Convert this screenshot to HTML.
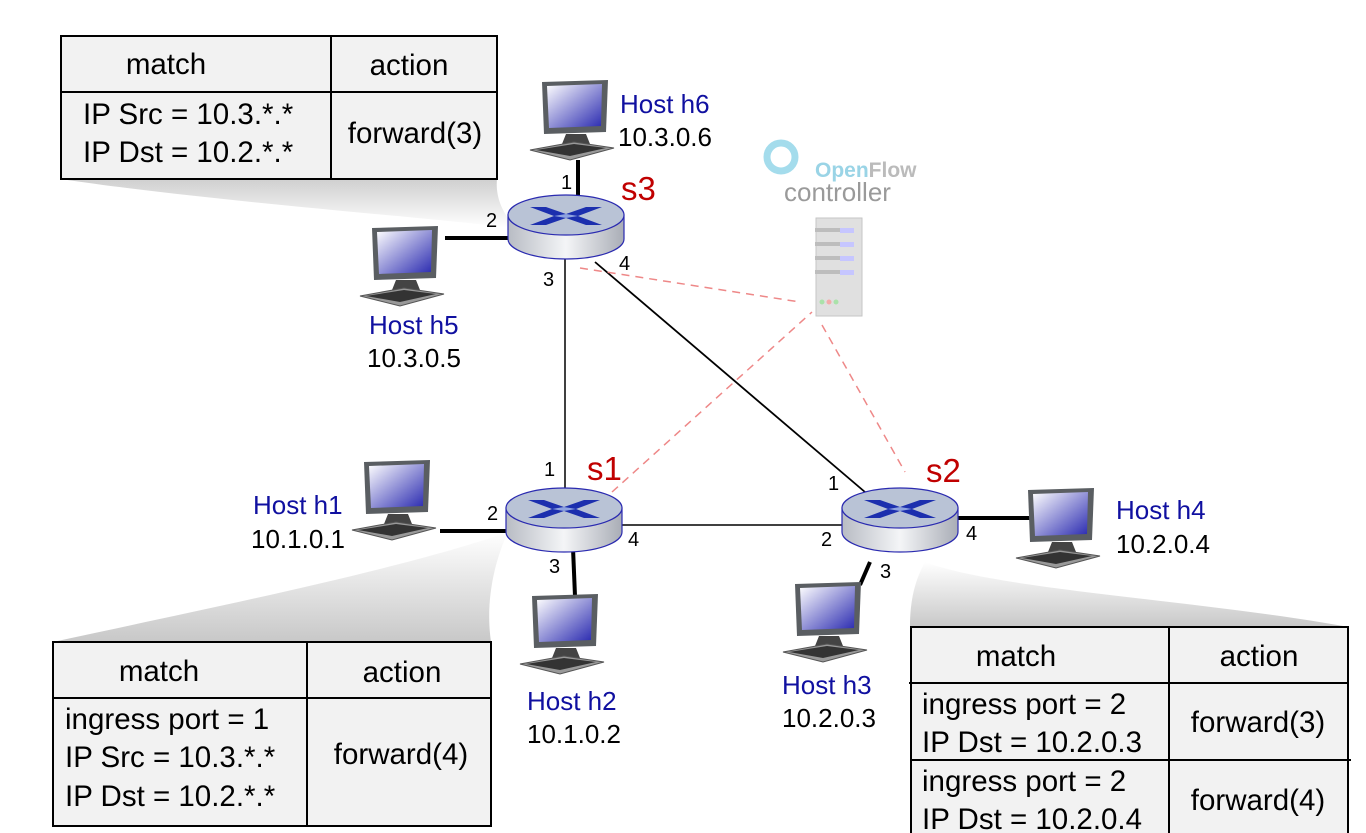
<!DOCTYPE html>
<html><head><meta charset="utf-8"><style>
html,body{margin:0;padding:0;background:#fff;}
svg{display:block;font-family:"Liberation Sans",Arial,sans-serif;}
</style></head><body>
<svg width="1366" height="833" viewBox="0 0 1366 833" xmlns="http://www.w3.org/2000/svg">
<defs>
<linearGradient id="sh1" x1="0" y1="0" x2="0" y2="1"><stop offset="0" stop-color="#cfcfcf"/><stop offset="1" stop-color="#fff"/></linearGradient>
<linearGradient id="sh2" x1="0" y1="1" x2="0" y2="0"><stop offset="0" stop-color="#c8c8c8"/><stop offset="1" stop-color="#fff"/></linearGradient>
<linearGradient id="rb" x1="0" y1="0" x2="1" y2="0"><stop offset="0" stop-color="#b8bcc4"/><stop offset="0.5" stop-color="#f4f5f7"/><stop offset="1" stop-color="#a9adb6"/></linearGradient>
<linearGradient id="scr" x1="0" y1="0" x2="1" y2="1"><stop offset="0" stop-color="#fff"/><stop offset="1" stop-color="#2a2ab0"/></linearGradient>
<g id="router">
<path d="M-58,0 L-58,24 A58,20 0 0 0 58,24 L58,0 Z" fill="url(#rb)" stroke="#2a2ab0" stroke-width="1.2"/>
<ellipse cx="0" cy="0" rx="58" ry="20" fill="#b9c3d6" stroke="#2a2ab0" stroke-width="1.2"/>
<path d="M-36,-8 L-20,-8 L0,-1 L20,-8 L36,-8 L12,1 L36,10 L20,10 L0,3 L-20,10 L-36,10 L-12,1 Z" fill="#1c2fae"/>
<path d="M-12,1 L0,-1 L12,1 L0,3 Z" fill="#8fa3e0"/>
</g>
<g id="pc">
<path d="M12,2 L78,0 L76,52 L14,54 Z" fill="#5a5e62"/>
<path d="M17,6 L72,4 L71,46 L19,48 Z" fill="url(#scr)"/>
<path d="M36,54 L56,54 L60,64 L32,64 Z" fill="#444"/>
<path d="M0,70 L44,62 L84,68 L40,80 Z" fill="#999" stroke="#555" stroke-width="1"/>
<path d="M6,70 L44,64 L76,68 L40,76 Z" fill="#333"/>
</g>
</defs>

<path d="M61,179 L497,179 C495,200 505,215 515,228 C400,215 200,200 61,179 Z" fill="url(#sh1)"/>
<path d="M53,642 L491,642 C485,600 495,560 508,532 C400,570 200,610 53,642 Z" fill="url(#sh2)"/>
<path d="M910,627 L1349,627 C1200,600 1000,590 925,562 C915,580 910,600 910,627 Z" fill="url(#sh2)"/>

<g stroke="#000" fill="none">
<line x1="565" y1="255" x2="565" y2="495" stroke-width="1.5"/>
<line x1="595" y1="262" x2="872" y2="498" stroke-width="1.8"/>
<line x1="615" y1="525" x2="845" y2="525" stroke-width="1.5"/>
<line x1="578" y1="160" x2="578" y2="200" stroke-width="4"/>
<line x1="445" y1="238" x2="510" y2="238" stroke-width="4"/>
<line x1="440" y1="531" x2="508" y2="531" stroke-width="4"/>
<line x1="573" y1="548" x2="575" y2="596" stroke-width="4"/>
<line x1="870" y1="562" x2="860" y2="585" stroke-width="4"/>
<line x1="955" y1="518" x2="1040" y2="518" stroke-width="4"/>
</g>
<g stroke="#e88" stroke-width="1.5" stroke-dasharray="8,6" fill="none">
<line x1="580" y1="268" x2="800" y2="302"/>
<line x1="612" y1="492" x2="812" y2="312"/>
<line x1="822" y1="325" x2="905" y2="472"/>
</g>

<use href="#router" x="566" y="215"/>
<use href="#router" x="564" y="508"/>
<use href="#router" x="900" y="508"/>

<use href="#pc" x="530" y="80"/>
<use href="#pc" x="360" y="226"/>
<use href="#pc" x="352" y="460"/>
<use href="#pc" x="520" y="594"/>
<use href="#pc" x="783" y="582"/>
<use href="#pc" x="1016" y="488"/>

<g opacity="0.55">
<rect x="816" y="218" width="46" height="98" fill="#c8c8c8" stroke="#999"/>
<rect x="815" y="228" width="38" height="4" fill="#888"/><rect x="840" y="228" width="14" height="5" fill="#99f"/>
<rect x="815" y="242" width="38" height="4" fill="#888"/><rect x="840" y="242" width="14" height="5" fill="#99f"/>
<rect x="815" y="256" width="38" height="4" fill="#888"/><rect x="840" y="256" width="14" height="5" fill="#99f"/>
<rect x="815" y="270" width="38" height="4" fill="#888"/><rect x="840" y="270" width="14" height="5" fill="#99f"/>
<circle cx="822" cy="302" r="2.5" fill="#6c6"/><circle cx="829" cy="302" r="2.5" fill="#e66"/><circle cx="836" cy="302" r="2.5" fill="#6c6"/>
<circle cx="781" cy="157" r="14" fill="none" stroke="#5bc0de" stroke-width="7"/>
</g>
<text x="815" y="177" font-size="21" font-weight="bold" fill="#9ad4e6">Open<tspan fill="#bbb">Flow</tspan></text>
<text x="784" y="201" font-size="26" fill="#9a9a9a">controller</text>

<g font-size="26">
<text x="620" y="113" fill="#1010a0">Host h6</text><text x="618" y="146">10.3.0.6</text>
<text x="369" y="334" fill="#1010a0">Host h5</text><text x="367" y="367">10.3.0.5</text>
<text x="253" y="514" fill="#1010a0">Host h1</text><text x="251" y="548">10.1.0.1</text>
<text x="527" y="710" fill="#1010a0">Host h2</text><text x="527" y="743">10.1.0.2</text>
<text x="782" y="694" fill="#1010a0">Host h3</text><text x="782" y="727">10.2.0.3</text>
<text x="1116" y="519" fill="#1010a0">Host h4</text><text x="1116" y="553">10.2.0.4</text>
</g>
<g font-size="33" fill="#c00000">
<text x="621" y="200">s3</text><text x="587" y="480">s1</text><text x="926" y="482">s2</text>
</g>
<g font-size="20">
<text x="561" y="189">1</text><text x="486" y="227">2</text><text x="543" y="286">3</text><text x="619" y="270">4</text>
<text x="544" y="476">1</text><text x="487" y="520">2</text><text x="549" y="573">3</text><text x="628" y="546">4</text>
<text x="828" y="490">1</text><text x="821" y="546">2</text><text x="880" y="578">3</text><text x="966" y="540">4</text>
</g>

<g font-size="29.5">
<rect x="61" y="36" width="436" height="143" fill="#f2f2f2" stroke="#000" stroke-width="2"/>
<line x1="61" y1="92" x2="497" y2="92" stroke="#000" stroke-width="2"/>
<line x1="331" y1="36" x2="331" y2="179" stroke="#000" stroke-width="2"/>
<text x="166" y="74" text-anchor="middle">match</text><text x="409" y="75" text-anchor="middle">action</text>
<text x="83" y="124">IP Src = 10.3.*.*</text><text x="83" y="162">IP Dst = 10.2.*.*</text>
<text x="415" y="143" text-anchor="middle">forward(3)</text>

<rect x="53" y="642" width="438" height="184" fill="#f2f2f2" stroke="#000" stroke-width="2"/>
<line x1="53" y1="698" x2="491" y2="698" stroke="#000" stroke-width="2"/>
<line x1="307" y1="642" x2="307" y2="826" stroke="#000" stroke-width="2"/>
<text x="159" y="681" text-anchor="middle">match</text><text x="402" y="682" text-anchor="middle">action</text>
<text x="65" y="729">ingress port = 1</text><text x="65" y="767">IP Src = 10.3.*.*</text><text x="65" y="806">IP Dst = 10.2.*.*</text>
<text x="401" y="764" text-anchor="middle">forward(4)</text>

<rect x="911" y="627" width="437" height="220" fill="#f2f2f2" stroke="#000" stroke-width="2"/>
<line x1="909" y1="683" x2="1348" y2="683" stroke="#000" stroke-width="2"/>
<line x1="911" y1="760" x2="1351" y2="760" stroke="#000" stroke-width="2"/>
<line x1="1169" y1="627" x2="1169" y2="833" stroke="#000" stroke-width="2"/>
<text x="1016" y="666" text-anchor="middle">match</text><text x="1259" y="666" text-anchor="middle">action</text>
<text x="922" y="714">ingress port = 2</text><text x="922" y="752">IP Dst = 10.2.0.3</text>
<text x="922" y="791">ingress port = 2</text><text x="922" y="829">IP Dst = 10.2.0.4</text>
<text x="1258" y="732" text-anchor="middle">forward(3)</text><text x="1258" y="810" text-anchor="middle">forward(4)</text>
</g>
</svg>
</body></html>
